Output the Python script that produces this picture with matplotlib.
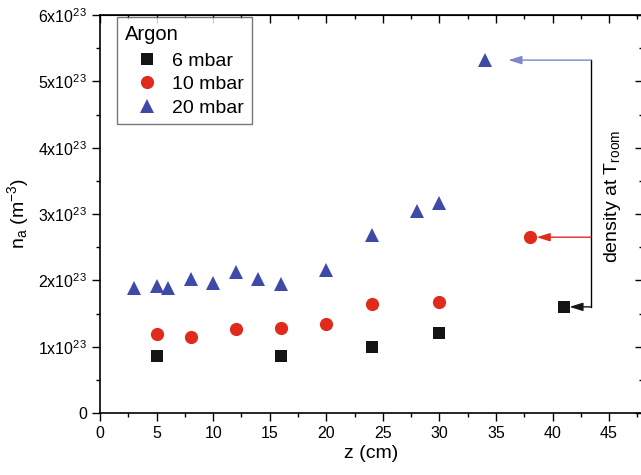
import matplotlib
matplotlib.use('Agg')
from matplotlib import pyplot as plt
from matplotlib.ticker import MultipleLocator

plt.rcParams['font.family'] = ['Liberation Sans', 'DejaVu Sans']
plt.rcParams['mathtext.fontset'] = 'custom'
plt.rcParams['mathtext.rm'] = 'Liberation Sans'
plt.rcParams['mathtext.it'] = 'Liberation Sans'

# data (density in units of 1e23 m^-3)
z_6 = [5, 16, 24, 30]
n_6 = [0.86, 0.86, 1.00, 1.21]
z_10 = [5, 8, 12, 16, 20, 24, 30]
n_10 = [1.19, 1.14, 1.27, 1.28, 1.34, 1.65, 1.68]
z_20 = [3, 5, 6, 8, 10, 12, 14, 16, 20, 24, 28, 30]
n_20 = [1.88, 1.92, 1.88, 2.02, 1.96, 2.13, 2.02, 1.94, 2.16, 2.68, 3.05, 3.17]

# room temperature densities
z_room = [41, 38, 34]
n_room = [1.60, 2.65, 5.32]

black = '#141414'
red = '#e02a1c'
blue = '#3f4aa8'

fig = plt.figure(figsize=(6.41, 4.75), dpi=100)
ax = fig.add_axes([100/641, 62/475, 543/641, 398/475])

ax.plot(z_6 + [z_room[0]], n_6 + [n_room[0]], 's', color=black, ms=8, label='6 mbar', mew=0)
ax.plot(z_10 + [z_room[1]], n_10 + [n_room[1]], 'o', color=red, ms=9.5, label='10 mbar', mew=0)
ax.plot(z_20 + [z_room[2]], n_20 + [n_room[2]], '^', color=blue, ms=10, label='20 mbar', mew=0)

# arrows pointing to room temperature values
xv = 43.4
ax.plot([xv, xv], [n_room[0], n_room[2]], color='black', lw=1)
arrow_cols = [black, red, '#7d86c6']
arrow_tips = [41.5, 38.6, 36.1]
for tip, n, c in zip(arrow_tips, n_room, arrow_cols):
    ax.annotate('', xy=(tip, n), xytext=(xv, n),
                arrowprops=dict(arrowstyle='-|>,head_length=0.8,head_width=0.25', color=c,
                                lw=1, mutation_scale=10, shrinkA=0, shrinkB=0))
ax.text(45.3, 3.27, r'density at T$_{\mathrm{room}}$', rotation=90,
        ha='center', va='center', fontsize=14)

ax.set_xlim(0, 48)
ax.set_ylim(0, 6)
ax.xaxis.set_minor_locator(MultipleLocator(2.5))
ax.yaxis.set_minor_locator(MultipleLocator(0.5))
ax.set_xticks(list(range(0, 50, 5)))
ax.set_xticklabels([str(v) for v in range(0, 50, 5)])
ylabels = ['0'] + [r'%dx10$^{23}$' % i for i in range(1, 7)]
ax.set_yticks(list(range(0, 7)))
ax.set_yticklabels(ylabels)

ax.tick_params(which='both', direction='out', top=False, right=False, labelsize=11.5, width=1)
ax.tick_params(which='major', length=6)
ax.tick_params(which='minor', length=3)

# inward ticks on top and right
sec_x = ax.secondary_xaxis('top')
sec_x.xaxis.set_major_locator(MultipleLocator(5))
sec_x.xaxis.set_minor_locator(MultipleLocator(2.5))
sec_x.tick_params(which='both', direction='in', labeltop=False, width=1)
sec_x.tick_params(which='major', length=6)
sec_x.tick_params(which='minor', length=3)
sec_y = ax.secondary_yaxis('right')
sec_y.yaxis.set_major_locator(MultipleLocator(1))
sec_y.yaxis.set_minor_locator(MultipleLocator(0.5))
sec_y.tick_params(which='both', direction='in', labelright=False, width=1)
sec_y.tick_params(which='major', length=6)
sec_y.tick_params(which='minor', length=3)

for s in ax.spines.values():
    s.set_linewidth(1.2)

ax.set_xlabel('z (cm)', fontsize=14, labelpad=3)
ax.set_ylabel(r'n$_{\mathrm{a}}$ (m$^{-3}$)', fontsize=14, labelpad=5)

leg = ax.legend(title='Argon', loc='upper left', bbox_to_anchor=(17/543, 0.995),
                borderaxespad=0, fontsize=14, title_fontsize=14.5, frameon=True,
                fancybox=False, edgecolor='#555555', handletextpad=0.15, borderpad=0.4,
                labelspacing=0.3, handlelength=2.3)
leg._legend_box.align = 'left'
leg._legend_box.sep = 6
leg.get_frame().set_linewidth(1)

fig.savefig('out.png', dpi=100)
